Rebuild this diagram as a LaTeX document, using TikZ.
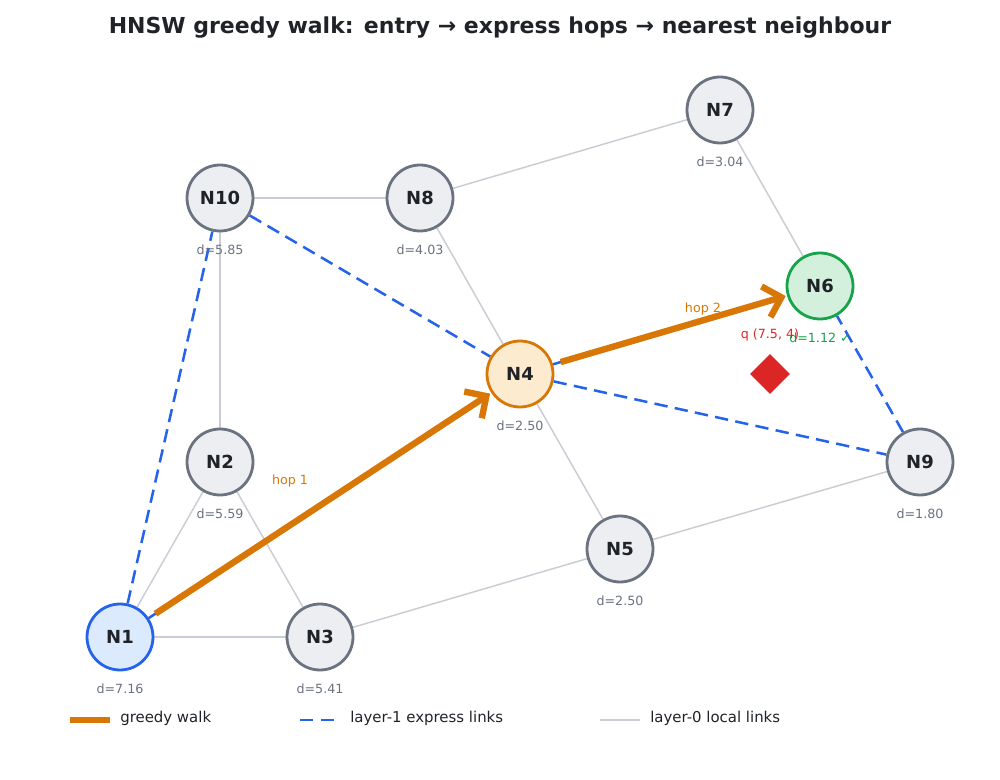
\documentclass[tikz,border=0pt]{standalone}
\usepackage{fontspec}
\setmainfont{DejaVu Sans}
\usepackage{tikz}
\usetikzlibrary{positioning, arrows.meta, shapes.geometric}
\definecolor{inkdark}{HTML}{1F2328}
\definecolor{distgray}{HTML}{6B7280}
\definecolor{nodeedge}{HTML}{6B7280}
\definecolor{nodefill}{HTML}{ECEEF2}
\definecolor{localgray}{HTML}{C9CDD3}
\definecolor{expressblue}{HTML}{2563EB}
\definecolor{entryfill}{HTML}{DCEAFD}
\definecolor{walkorange}{HTML}{D97706}
\definecolor{hopfill}{HTML}{FDEBD0}
\definecolor{nearestgreen}{HTML}{16A34A}
\definecolor{nearestfill}{HTML}{D3F0DC}
\definecolor{queryred}{HTML}{DC2626}
\pgfdeclarelayer{background}
\pgfsetlayers{background,main}
\tikzstyle{hnsw} = [
    circle, draw=nodeedge, fill=nodefill, line width=2.1pt,
    minimum size=49.5pt, inner sep=0pt, text=inkdark,
    font=\bfseries\fontsize{13.5}{16}\selectfont
]
\tikzstyle{entry} = [hnsw, draw=expressblue, fill=entryfill]
\tikzstyle{hopnode} = [hnsw, draw=walkorange, fill=hopfill]
\tikzstyle{nearest} = [hnsw, draw=nearestgreen, fill=nearestfill]
\tikzstyle{dist} = [text=distgray, inner sep=1pt, font=\fontsize{9.5}{11}\selectfont]
\tikzstyle{local} = [draw=localgray, line width=1.1pt]
\tikzstyle{express} = [draw=expressblue, line width=1.9pt, dash pattern=on 10pt off 5.5pt]
\tikzstyle{walkline} = [draw=walkorange, line width=4.8pt]
\tikzstyle{walk} = [
    walkline, -{Straight Barb[length=12pt, width=24pt]},
    shorten <=6pt, shorten >=1pt
]
\tikzstyle{hoplabel} = [text=walkorange, font=\fontsize{9.5}{11}\selectfont]
\tikzstyle{legend} = [anchor=west, text=inkdark, inner sep=0pt, font=\fontsize{11.2}{13}\selectfont]

\begin{document}
\begin{tikzpicture}[x=0.75pt, y=-0.75pt]
        \useasboundingbox (0,0) rectangle (1000,780);
        % Title
        \node[text=inkdark, font=\bfseries\fontsize{16.5}{19}\selectfont] (title) at (500,28)
            {HNSW greedy walk: entry → express hops → nearest neighbour};

        % Nodes
        \node[entry] (n1) at (120,637) {N1};
        \node[hnsw] (n2) at (220,462) {N2};
        \node[hnsw] (n3) at (320,637) {N3};
        \node[hopnode] (n4) at (520,374) {N4};
        \node[hnsw] (n5) at (620,549) {N5};
        \node[nearest] (n6) at (820,286) {N6};
        \node[hnsw] (n7) at (720,110) {N7};
        \node[hnsw] (n8) at (420,198) {N8};
        \node[hnsw] (n9) at (920,462) {N9};
        \node[hnsw] (n10) at (220,198) {N10};

        % Distances to q
        \node[dist] (d1) [below=8pt of n1] {d=7.16};
        \node[dist] (d2) [below=8pt of n2] {d=5.59};
        \node[dist] (d3) [below=8pt of n3] {d=5.41};
        \node[dist] (d4) [below=8pt of n4] {d=2.50};
        \node[dist] (d5) [below=8pt of n5] {d=2.50};
        \node[dist, text=nearestgreen] (d6) [below=8pt of n6] {d=1.12 ✓};
        \node[dist] (d7) [below=8pt of n7] {d=3.04};
        \node[dist] (d8) [below=8pt of n8] {d=4.03};
        \node[dist] (d9) [below=8pt of n9] {d=1.80};
        \node[dist] (d10) [below=8pt of n10] {d=5.85};

        % Query point
        \node[diamond, fill=queryred, minimum size=30pt, inner sep=0pt] (q) at (770,374) {};
        \node[text=queryred, inner sep=1pt, font=\fontsize{9.5}{11}\selectfont] (qlabel) [above=8pt of q] {q (7.5, 4)};

        \begin{pgfonlayer}{background}
        % Layer-0 local links
        \foreach \a/\b in {n1/n2, n1/n3, n2/n3, n2/n10, n10/n8, n8/n7, n7/n6, n8/n4, n4/n5, n5/n3, n5/n9}
            \draw[local] (\a) -- (\b);
        % Layer-1 express links
        \foreach \a/\b in {n1/n10, n10/n4, n4/n9, n9/n6, n1/n4, n4/n6}
            \draw[express] (\a) -- (\b);
        \end{pgfonlayer}

        % Greedy walk
        \draw[walk] (n1) -- (n4) node[hoplabel, midway, xshift=-22.5pt, yshift=18.4pt] {hop 1};
        \draw[walk] (n4) -- (n6) node[hoplabel, midway, xshift=24.7pt, yshift=15.7pt] {hop 2};

        % Legend
        \coordinate (lgwalk) at (70,720);
        \coordinate (lgexpress) at (300,720);
        \coordinate (lglocal) at (600,720);
        \draw[walkline] (lgwalk) -- ++(40,0);
        \draw[express] (lgexpress) -- ++(40,0);
        \draw[local] (lglocal) -- ++(40,0);
        \node[legend] (lgwalktext) at (120,718) {greedy walk};
        \node[legend] (lgexpresstext) at (350,718) {layer-1 express links};
        \node[legend] (lglocaltext) at (650,718) {layer-0 local links};
\end{tikzpicture}
\end{document}
